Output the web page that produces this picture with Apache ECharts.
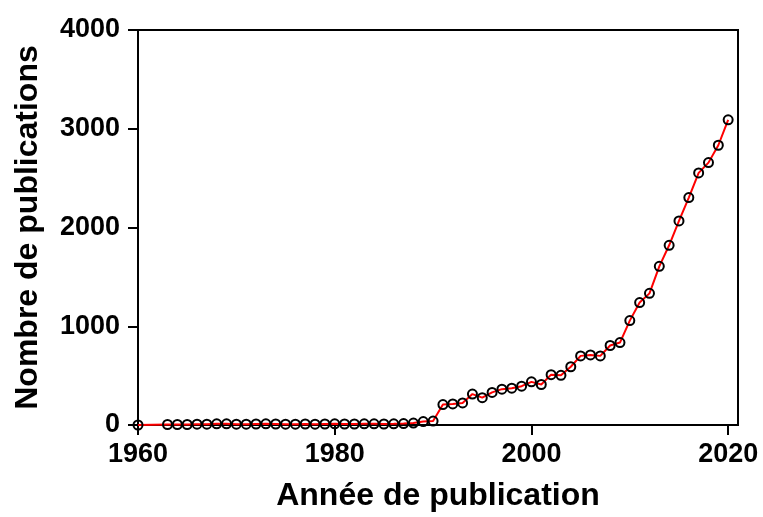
<!DOCTYPE html>
<html>
<head>
<meta charset="utf-8">
<script src="https://cdn.jsdelivr.net/npm/echarts@6/dist/echarts.min.js"></script>
<style>
html,body{margin:0;padding:0;background:#fff;}
#chart{width:763px;height:517px;}
</style>
</head>
<body>
<div id="chart"></div>
<script>
const years = [1960, 1963, 1964, 1965, 1966, 1967, 1968, 1969, 1970, 1971, 1972, 1973, 1974, 1975, 1976, 1977, 1978, 1979, 1980, 1981, 1982, 1983, 1984, 1985, 1986, 1987, 1988, 1989, 1990, 1991, 1992, 1993, 1994, 1995, 1996, 1997, 1998, 1999, 2000, 2001, 2002, 2003, 2004, 2005, 2006, 2007, 2008, 2009, 2010, 2011, 2012, 2013, 2014, 2015, 2016, 2017, 2018, 2019, 2020];
const publications = [0, 5, 5, 5, 8, 8, 12, 12, 8, 8, 10, 12, 10, 8, 8, 10, 8, 10, 12, 10, 10, 12, 12, 10, 12, 15, 20, 35, 40, 207, 213, 223, 313, 277, 330, 363, 373, 393, 437, 410, 510, 503, 590, 700, 710, 700, 805, 835, 1057, 1240, 1333, 1607, 1820, 2067, 2303, 2553, 2657, 2833, 3090];
const xTicks = [1960, 1980, 2000, 2020];
const yTicks = [0, 1000, 2000, 3000, 4000];
const xTitle = 'Année de publication';
const yTitle = 'Nombre de publications';

const chart = echarts.init(document.getElementById('chart'), null, {renderer: 'canvas'});
const font = 'Liberation Sans, Arial, Helvetica, sans-serif';
chart.setOption({
  animation: false,
  backgroundColor: '#ffffff',
  grid: {left: 138, top: 30, width: 600, height: 398, show: true, borderColor: '#000', borderWidth: 2, backgroundColor: 'transparent'},
  xAxis: {
    type: 'value', min: 1960, max: 2021, interval: 20,
    name: xTitle, nameLocation: 'middle', nameGap: 55,
    nameTextStyle: {fontFamily: font, fontWeight: 'bold', fontSize: 32, color: '#000'},
    axisLine: {show: true, onZero: false, lineStyle: {color: '#000', width: 2}},
    axisTick: {show: true, inside: false, length: 10, lineStyle: {color: '#000', width: 2}, customValues: xTicks},
    axisLabel: {fontFamily: font, fontWeight: 'bold', fontSize: 27, color: '#000', margin: 16, customValues: xTicks, formatter: v => String(v)},
    splitLine: {show: false}
  },
  yAxis: {
    type: 'value', min: 0, max: 4000, interval: 1000,
    name: yTitle, nameLocation: 'middle', nameGap: 94,
    nameTextStyle: {fontFamily: font, fontWeight: 'bold', fontSize: 32, color: '#000'},
    axisLine: {show: true, lineStyle: {color: '#000', width: 2}},
    axisTick: {show: true, inside: false, length: 10, lineStyle: {color: '#000', width: 2}, customValues: yTicks},
    axisLabel: {fontFamily: font, fontWeight: 'bold', fontSize: 27, color: '#000', margin: 18, customValues: yTicks, formatter: v => String(v)},
    splitLine: {show: false}
  },
  series: [{
    type: 'line',
    data: years.map((y, i) => [y, publications[i]]),
    symbol: 'circle', symbolSize: 9, showSymbol: true,
    lineStyle: {color: '#ff0000', width: 2},
    itemStyle: {color: 'rgba(0,0,0,0)', borderColor: '#000', borderWidth: 2},
    clip: false, z: 3
  }]
});
</script>
</body>
</html>
